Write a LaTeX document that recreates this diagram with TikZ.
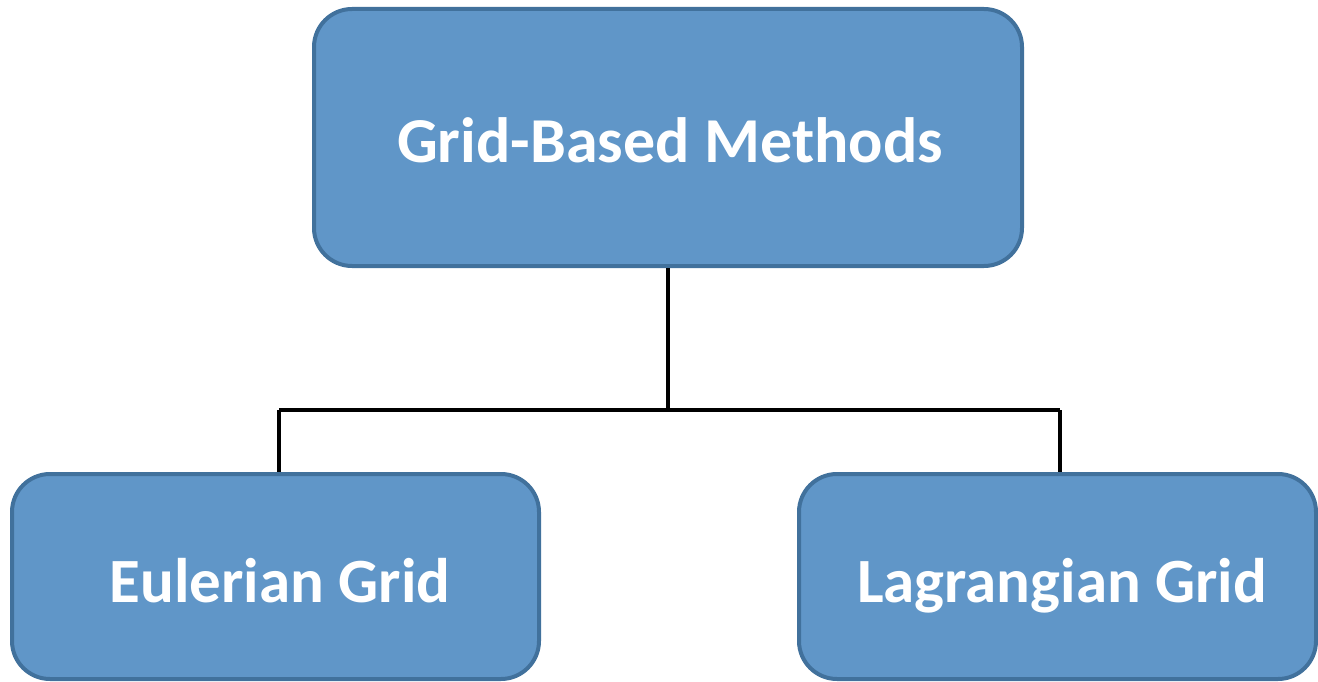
\documentclass[tikz,border=0pt]{standalone}
\usepackage{fontspec}
\setmainfont{Carlito}
\definecolor{boxfill}{RGB}{96,150,200}
\definecolor{boxline}{RGB}{65,113,156}
\tikzset{
  box/.style={draw=boxline, fill=boxfill, line width=4pt, rounded corners=38pt, inner sep=0pt},
  caption/.style={text=white, font=\bfseries\fontsize{63}{75}\selectfont,
    anchor=base, inner sep=0pt},
  link/.style={draw=black, line width=4pt}
}
\begin{document}
\begin{tikzpicture}[x=1pt,y=-1pt]
  \useasboundingbox (0,0) rectangle (1318,682);
  % boxes
  \node[box, minimum width=708pt, minimum height=257pt] (top) at (668,137.5) {};
  \node[box, minimum width=527pt, minimum height=205pt] (left) at (275.5,576.5) {};
  \node[box, minimum width=517pt, minimum height=205pt] (right) at (1057.5,576.5) {};
  % captions
  \node[caption, font=\bfseries\fontsize{64}{76}\selectfont] (topText) at (670,163) {Grid-Based Methods};
  \node[caption] (leftText) at (280,602) {Eulerian Grid};
  \node[caption] (rightText) at (1062,602) {Lagrangian Grid};
  % connector tree
  \coordinate (busL) at (279,410);
  \coordinate (busR) at (1060,410);
  \draw[link] (top.south) -- (top.south |- busL);
  \draw[link] (busL) -- (busR);
  \draw[link] (busL) -- (busL |- left.north);
  \draw[link] (busR) -- (busR |- right.north);
\end{tikzpicture}
\end{document}
